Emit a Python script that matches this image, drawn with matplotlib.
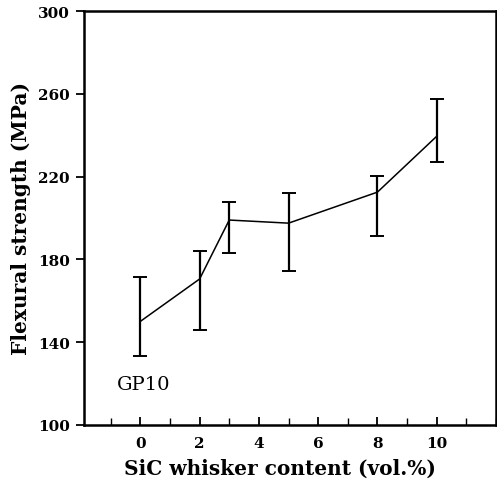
import matplotlib
matplotlib.use("Agg")
import matplotlib.pyplot as plt
from matplotlib.ticker import MultipleLocator

whisker = [0, 2, 3, 5, 8, 10]
strength = [150, 170.5, 199, 197.5, 212.5, 239.5]
err_upper = [171.5, 184, 207.5, 212, 220.5, 257.5]
err_lower = [133.5, 146, 183, 174.5, 191.5, 227]
xticks = [0, 2, 4, 6, 8, 10]
yticks = [100, 140, 180, 220, 260, 300]

fig = plt.figure(figsize=(4.97, 4.85), dpi=100)
ax = fig.add_axes([0.169, 0.122, 0.829, 0.853])

yerr = [[s - l for s, l in zip(strength, err_lower)],
        [u - s for s, u in zip(strength, err_upper)]]
ax.errorbar(whisker, strength, yerr=yerr, color="black", lw=1.1,
            elinewidth=1.6, capsize=5, capthick=1.4)

ax.set_xlim(-1.9, 12.0)
ax.set_ylim(100, 300)
ax.set_xticks(xticks)
ax.set_yticks(yticks)
ax.xaxis.set_minor_locator(MultipleLocator(1))
ax.tick_params(axis="x", which="major", direction="in", length=6, width=1.3, pad=8)
ax.tick_params(axis="x", which="minor", direction="in", length=5, width=1.0)
ax.tick_params(axis="y", which="major", direction="out", length=6, width=1.3, pad=4)
for s in ax.spines.values():
    s.set_linewidth(1.8)
    s.set_color("black")

tfont = dict(family="DejaVu Serif", weight="bold", size=11)
ax.set_xticklabels([str(t) for t in xticks], **tfont)
ax.set_yticklabels([str(t) for t in yticks], **tfont)

lfont = dict(family="DejaVu Serif", weight="bold", size=14.5)
ax.set_xlabel("SiC whisker content (vol.%)", **lfont)
ax.xaxis.set_label_coords(0.475, -0.08)
ax.set_ylabel("Flexural strength (MPa)", labelpad=5, **lfont)

ax.text(-0.8, 119.5, "GP10", family="DejaVu Serif", size=14,
        ha="left", va="center")

fig.savefig("out.png", dpi=100)
